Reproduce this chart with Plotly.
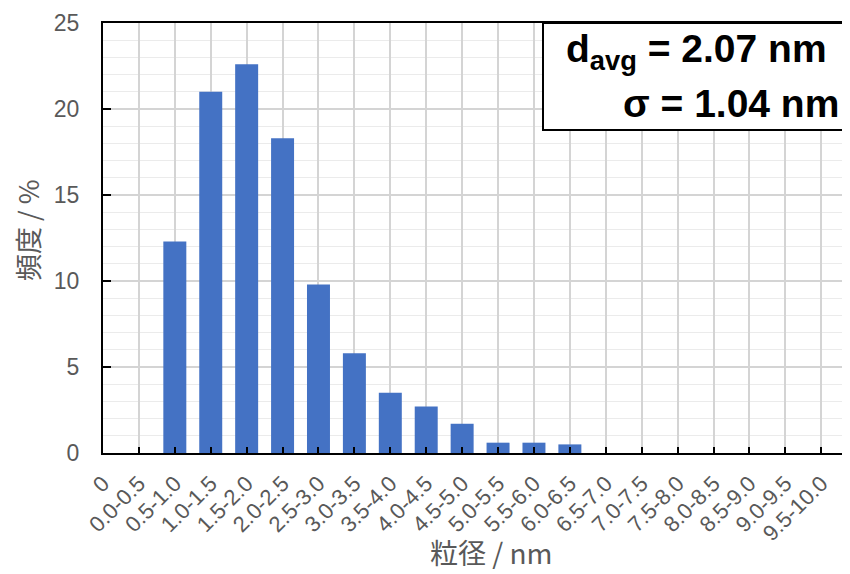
import plotly.graph_objects as go

categories = ["0", "0.0-0.5", "0.5-1.0", "1.0-1.5", "1.5-2.0", "2.0-2.5", "2.5-3.0",
              "3.0-3.5", "3.5-4.0", "4.0-4.5", "4.5-5.0", "5.0-5.5", "5.5-6.0",
              "6.0-6.5", "6.5-7.0", "7.0-7.5", "7.5-8.0", "8.0-8.5", "8.5-9.0",
              "9.0-9.5", "9.5-10.0"]
frequency = [None, None, 12.3, 21.0, 22.6, 18.3, 9.8, 5.8, 3.5, 2.7, 1.7,
             0.6, 0.6, 0.5, None, None, None, None, None, None, None]
y_ticks = [0, 5, 10, 15, 20, 25]

# the page body adds an 8px offset; compensate so the screenshot matches
OFF = 8
W, H = 850 - OFF, 574 - OFF
L, T = 103 - OFF, 23 - OFF
PLOT_BOTTOM = 453 - OFF
R = 0
B = H - PLOT_BOTTOM
pw, ph = W - L - R, H - T - B

def px(x):  # screen x -> paper
    return (x - OFF - L) / pw

def py(y):  # screen y -> paper
    return (PLOT_BOTTOM - (y - OFF)) / ph

GRAY = "#595959"

fig = go.Figure()
fig.add_trace(go.Bar(
    x=categories, y=frequency,
    marker=dict(color="#4472C4", line=dict(width=0)),
    width=0.64,
))

fig.update_layout(
    width=W, height=H,
    margin=dict(l=L, r=R, t=T, b=B, pad=0, autoexpand=False),
    paper_bgcolor="white", plot_bgcolor="white",
    showlegend=False,
    font=dict(family="Liberation Sans, Arial, sans-serif", color=GRAY),
    xaxis=dict(
        type="category", automargin=False,
        categoryorder="array", categoryarray=categories,
        range=[0, 20.8],
        tickmode="array", tickvals=categories, ticktext=categories,
        tickangle=-45,
        tickfont=dict(size=22, color=GRAY, family="Liberation Sans, Arial, sans-serif"),
        ticks="inside", ticklen=6, tickwidth=2, tickcolor="black",
        ticklabelstandoff=7,
        showline=True, linecolor="black", linewidth=2, mirror=True,
        showgrid=True, gridcolor="#d4d4d4", gridwidth=1.5,
        zeroline=False,
    ),
    yaxis=dict(
        range=[0, 25], automargin=False,
        tickmode="array", tickvals=y_ticks,
        tickfont=dict(size=23, color=GRAY, family="Liberation Sans, Arial, sans-serif"),
        ticks="inside", ticklen=8, tickwidth=2, tickcolor="black",
        ticklabelstandoff=17,
        showline=True, linecolor="black", linewidth=2, mirror=False,
        showgrid=True, gridcolor="#d4d4d4", gridwidth=1.5,
        minor=dict(dtick=1, showgrid=True, gridcolor="#ebebeb", gridwidth=1),
        zeroline=False,
    ),
)

# axis titles
fig.add_annotation(text="頻度 / %", xref="paper", yref="paper",
                   x=px(28), y=py(230), xanchor="center", yanchor="middle",
                   textangle=-90, showarrow=False,
                   font=dict(family="Noto Sans CJK JP", size=27, color=GRAY))
fig.add_annotation(text="粒径 / nm", xref="paper", yref="paper",
                   x=px(491), y=py(552), xanchor="center", yanchor="middle",
                   showarrow=False,
                   font=dict(family="Noto Sans CJK JP", size=28, color=GRAY))

# statistics box
fig.add_shape(type="rect", xref="paper", yref="paper",
              x0=px(543), x1=px(870), y0=py(130), y1=py(23),
              line=dict(color="black", width=2), fillcolor="white", layer="above")
fig.add_annotation(text="<b>d<sub>avg</sub> = 2.07 nm</b>", xref="paper", yref="paper",
                   x=px(829), y=py(51), xanchor="right", yanchor="middle",
                   showarrow=False,
                   font=dict(family="Liberation Sans, Arial, sans-serif", size=39, color="black"))
fig.add_annotation(text="<b>σ = 1.04 nm</b>", xref="paper", yref="paper",
                   x=px(841), y=py(103), xanchor="right", yanchor="middle",
                   showarrow=False,
                   font=dict(family="Liberation Sans, Arial, sans-serif", size=39, color="black"))

fig.write_html("out.html")
